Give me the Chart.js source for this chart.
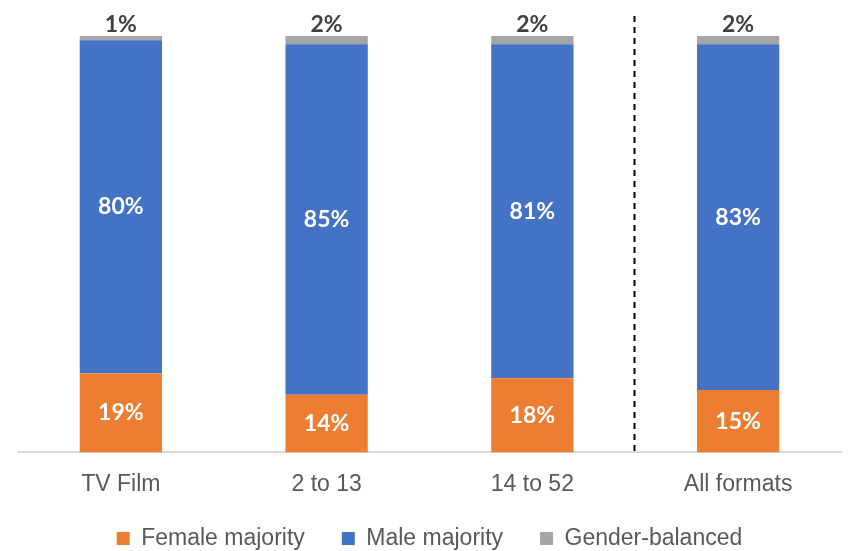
<!DOCTYPE html>
<html>
<head>
<meta charset="utf-8">
<script src="https://cdn.jsdelivr.net/npm/chart.js@4"></script>
<style>
  html, body { margin: 0; padding: 0; background: #fff; }
  #wrap { width: 851px; height: 551px; }
</style>
</head>
<body>
<div id="wrap"><canvas id="chart" width="851" height="551"></canvas></div>
<script>
// Data (percent labels as shown; bars are drawn as 100% stacked)
const categories = ['TV Film', '2 to 13', '14 to 52', 'All formats'];
const femaleMajority = [19, 14, 18, 15];
const maleMajority = [80, 85, 81, 83];
const genderBalanced = [1, 2, 2, 2];

const ORANGE = '#ED7D31';
const BLUE = '#4472C4';
const GREY = '#A5A5A5';

// 100% stacked, like the original spreadsheet chart
const totals = categories.map((c, i) => femaleMajority[i] + maleMajority[i] + genderBalanced[i]);
const share = (arr) => arr.map((v, i) => v / totals[i] * 100);

// segment labels drawn on top of the bars
const labelPlugin = {
    id: 'segLabels',
    afterDatasetsDraw(chart) {
        const { ctx } = chart;
        const raw = [femaleMajority, maleMajority, genderBalanced];
        ctx.save();
        ctx.textAlign = 'center';
        ctx.textBaseline = 'middle';
        ctx.font = 'bold 23px Lato, sans-serif';
        chart.data.datasets.forEach((ds, di) => {
            const meta = chart.getDatasetMeta(di);
            meta.data.forEach((bar, i) => {
                const txt = raw[di][i] + '%';
                if (di === 2) {
                    ctx.fillStyle = '#404040';
                    ctx.fillText(txt, bar.x, bar.y - 11);
                } else {
                    ctx.fillStyle = '#ffffff';
                    ctx.fillText(txt, bar.x, (bar.y + bar.base) / 2);
                }
            });
        });
        ctx.restore();
    }
};

// dashed separator between "14 to 52" and "All formats"
const dividerPlugin = {
    id: 'divider',
    afterDatasetsDraw(chart) {
        const { ctx, scales } = chart;
        const x = Math.round((scales.x.getPixelForValue(2) + scales.x.getPixelForValue(3)) / 2) - 0.5;
        ctx.save();
        ctx.strokeStyle = '#000';
        ctx.lineWidth = 2;
        ctx.setLineDash([6, 5]);
        ctx.beginPath();
        ctx.moveTo(x, 16);
        ctx.lineTo(x, chart.chartArea.bottom);
        ctx.stroke();
        ctx.restore();
    }
};

// pull the legend up a bit so it sits closer to the axis labels
const legendShift = {
    id: 'legendShift',
    afterLayout(chart) {
        const lg = chart.legend;
        if (!lg) return;
        lg.top -= 18;
        lg.bottom -= 18;
    }
};

const ctx = document.getElementById('chart').getContext('2d');
new Chart(ctx, {
    type: 'bar',
    data: {
        labels: categories,
        datasets: [
            { label: 'Female majority', data: share(femaleMajority), backgroundColor: ORANGE },
            { label: 'Male majority', data: share(maleMajority), backgroundColor: BLUE },
            { label: 'Gender-balanced', data: share(genderBalanced), backgroundColor: GREY }
        ]
    },
    options: {
        responsive: false,
        animation: false,
        layout: { padding: { top: 36, left: 18, right: 10, bottom: -19 } },
        datasets: { bar: { barPercentage: 0.4, categoryPercentage: 1 } },
        plugins: {
            legend: {
                position: 'bottom',
                maxHeight: 62,
                labels: {
                    boxWidth: 13,
                    boxHeight: 13,
                    padding: 37,
                    color: '#595959',
                    font: { family: '"Liberation Sans", Arial, sans-serif', size: 23 }
                }
            },
            tooltip: { enabled: false }
        },
        scales: {
            x: {
                stacked: true,
                grid: { display: false },
                border: { color: '#D9D9D9', width: 2 },
                ticks: {
                    color: '#595959',
                    padding: 10,
                    font: { family: '"Liberation Sans", Arial, sans-serif', size: 23 }
                }
            },
            y: {
                stacked: true,
                display: false,
                min: 0,
                max: 100
            }
        }
    },
    plugins: [labelPlugin, dividerPlugin, legendShift]
});
</script>
</body>
</html>
